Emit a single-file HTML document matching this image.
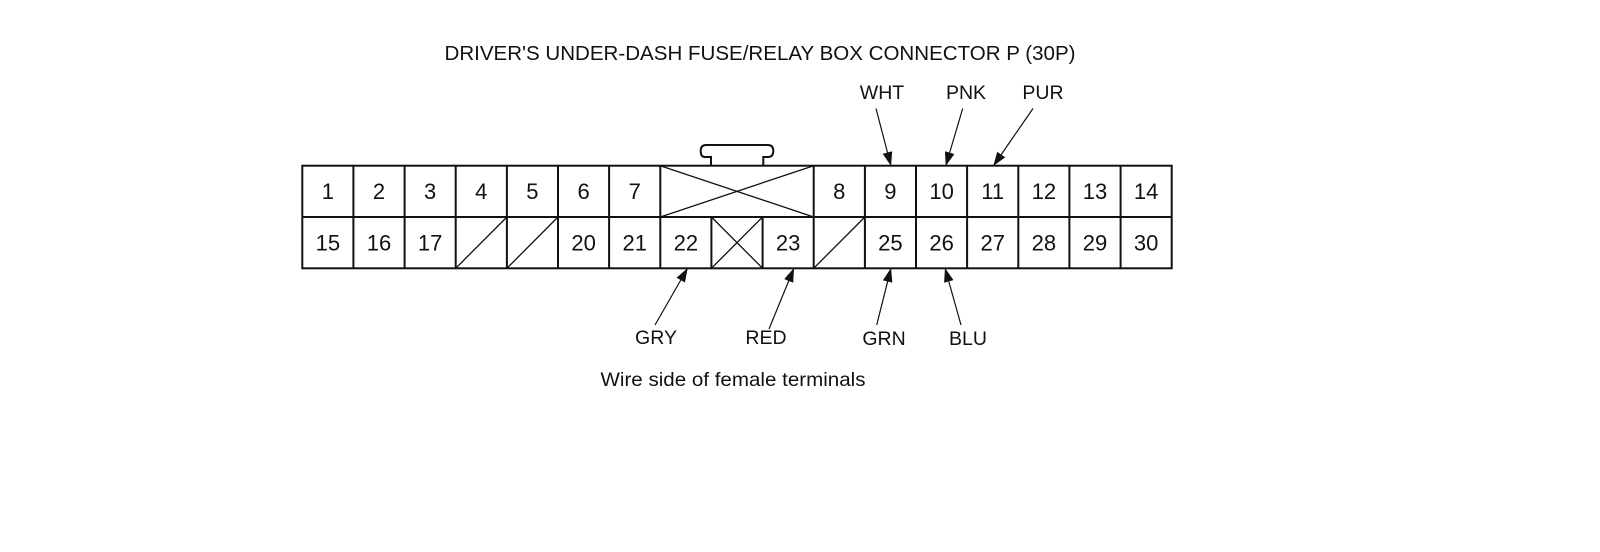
<!DOCTYPE html>
<html><head><meta charset="utf-8"><style>
html,body{margin:0;padding:0;background:#fff;}
svg{display:block;}
text{font-family:"Liberation Sans",Arial,sans-serif;fill:#111;}
</style></head><body>
<svg width="1600" height="552" viewBox="0 0 1600 552" xmlns="http://www.w3.org/2000/svg">
<defs>
<marker id="ah" viewBox="0 0 10 10" refX="10" refY="5" markerWidth="14" markerHeight="14" markerUnits="userSpaceOnUse" orient="auto"><path d="M0,1.5 L10,5 L0,8.5 z" fill="#111"/></marker>
</defs>
<text x="760" y="60" font-size="20.5" text-anchor="middle" textLength="631" lengthAdjust="spacingAndGlyphs">DRIVER'S UNDER-DASH FUSE/RELAY BOX CONNECTOR P (30P)</text>

<path d="M711,165.7 L711,157 L705,157 Q700.7,157 700.7,151 Q700.7,145 706,145 L768,145 Q773.3,145 773.3,151 Q773.3,157 768,157 L763.3,157 L763.3,165.7" fill="#fff" stroke="#111" stroke-width="2"/>

<g stroke="#111" stroke-width="2" fill="none">
<rect x="302.3" y="165.7" width="869.4" height="102.6" fill="#fff"/>
<line x1="302.3" y1="217" x2="1171.7" y2="217"/>
<path d="M353.4,165.7V268.3 M404.6,165.7V268.3 M455.7,165.7V268.3 M506.9,165.7V268.3 M558,165.7V268.3 M609.1,165.7V268.3 M660.3,165.7V268.3 M711.4,217V268.3 M762.6,217V268.3 M813.7,165.7V268.3 M864.9,165.7V268.3 M916,165.7V268.3 M967.1,165.7V268.3 M1018.3,165.7V268.3 M1069.4,165.7V268.3 M1120.6,165.7V268.3"/>
</g>
<g stroke="#111" stroke-width="1.3">
<line x1="660.3" y1="165.7" x2="813.7" y2="217"/>
<line x1="660.3" y1="217" x2="813.7" y2="165.7"/>
<line x1="711.4" y1="217" x2="762.6" y2="268.3"/>
<line x1="711.4" y1="268.3" x2="762.6" y2="217"/>
<line x1="455.7" y1="268.3" x2="506.9" y2="217"/>
<line x1="506.9" y1="268.3" x2="558" y2="217"/>
<line x1="813.7" y1="268.3" x2="864.9" y2="217"/>
</g>

<g font-size="22" text-anchor="middle">
<text x="327.9" y="199">1</text><text x="379" y="199">2</text><text x="430.1" y="199">3</text><text x="481.3" y="199">4</text><text x="532.4" y="199">5</text><text x="583.6" y="199">6</text><text x="634.7" y="199">7</text>
<text x="839.3" y="199">8</text><text x="890.4" y="199">9</text><text x="941.6" y="199">10</text><text x="992.7" y="199">11</text><text x="1043.9" y="199">12</text><text x="1095" y="199">13</text><text x="1146.1" y="199">14</text>
<text x="327.9" y="250.5">15</text><text x="379" y="250.5">16</text><text x="430.1" y="250.5">17</text><text x="583.6" y="250.5">20</text><text x="634.7" y="250.5">21</text><text x="685.9" y="250.5">22</text><text x="788.1" y="250.5">23</text>
<text x="890.4" y="250.5">25</text><text x="941.6" y="250.5">26</text><text x="992.7" y="250.5">27</text><text x="1043.9" y="250.5">28</text><text x="1095" y="250.5">29</text><text x="1146.1" y="250.5">30</text>
</g>

<g stroke="#111" stroke-width="1.2" marker-end="url(#ah)">
<line x1="876" y1="108.5" x2="891" y2="166"/>
<line x1="962.7" y1="108.5" x2="945.7" y2="166"/>
<line x1="1033" y1="108.5" x2="993.3" y2="166"/>
<line x1="655" y1="325" x2="687.7" y2="268"/>
<line x1="769" y1="329" x2="794" y2="268"/>
<line x1="876.7" y1="325" x2="891" y2="268"/>
<line x1="961" y1="325" x2="945" y2="268"/>
</g>

<g font-size="19.5" text-anchor="middle">
<text x="882" y="99">WHT</text>
<text x="966" y="99">PNK</text>
<text x="1043" y="99">PUR</text>
<text x="656" y="344">GRY</text>
<text x="766" y="344">RED</text>
<text x="884" y="345">GRN</text>
<text x="968" y="345">BLU</text>
</g>
<text x="733" y="386" font-size="19.5" text-anchor="middle" textLength="265" lengthAdjust="spacingAndGlyphs">Wire side of female terminals</text>
</svg>
</body></html>
